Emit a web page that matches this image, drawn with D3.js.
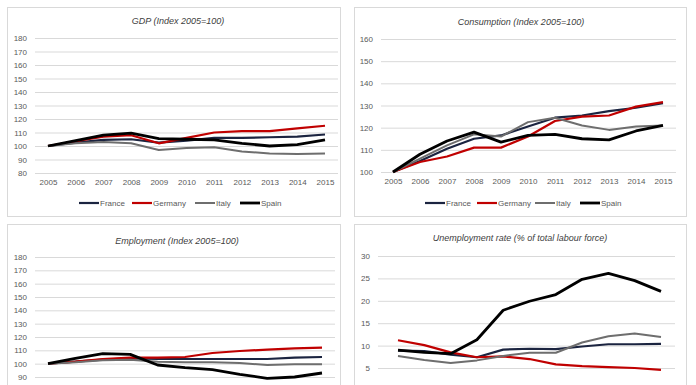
<!DOCTYPE html>
<html><head><meta charset="utf-8">
<script src="https://cdn.jsdelivr.net/npm/d3@7"></script>
<style>
body{margin:0;background:#fff;}
svg{display:block;font-family:"Liberation Sans","Open Sans",Arial,sans-serif;}
</style></head>
<body>
<svg id="c" width="696" height="385"></svg>
<script>
const years = [2005,2006,2007,2008,2009,2010,2011,2012,2013,2014,2015];
const countries = ["France","Germany","Italy","Spain"];

// GDP (Index 2005=100)
const gdpFrance  = [100,102.5,104.5,105,102.5,104,106,106,106.5,107,108.5];
const gdpGermany = [100,103.5,107,108,102,106,110,111,111,113,115];
const gdpItaly   = [100,102,103,102,97,98.5,99,96,94.5,94,94.5];
const gdpSpain   = [100,104,108,109.5,105.5,105,104.5,102,100,101,104.5];

// Consumption (Index 2005=100)
const conFrance  = [100,105,110.5,115,116.5,120.5,124.5,125.5,127.5,129,131];
const conGermany = [100,104.5,107,111,111,116,123,125,125.5,129.5,131.5];
const conItaly   = [100,106,112,117,116,122.5,124.5,121,119,120.5,121];
const conSpain   = [100,108,114,118,113.5,116.5,117,115,114.5,118.5,121];

// Employment (Index 2005=100)
const empFrance  = [100,101.5,103,104,103.5,103.5,103.5,103.5,103.5,104.5,105];
const empGermany = [100,101.5,103.5,104.5,104.5,105,108,109.5,110.5,111.5,112];
const empItaly   = [100,101,102.5,103,101.5,101,101,100.5,99,99.5,99.5];
const empSpain   = [100,104,107.5,107,99,97,95.5,92,89,90,93];

// Unemployment rate (% of total labour force)
const unFrance  = [8.9,8.8,8.0,7.4,9.1,9.3,9.2,9.8,10.3,10.3,10.4];
const unGermany = [11.2,10.1,8.5,7.4,7.6,7.0,5.8,5.4,5.2,5.0,4.6];
const unItaly   = [7.7,6.8,6.1,6.7,7.7,8.4,8.4,10.7,12.1,12.7,11.9];
const unSpain   = [9.0,8.5,8.2,11.3,17.9,19.9,21.4,24.8,26.1,24.5,22.1];

const ticksGdp = [80,90,100,110,120,130,140,150,160,170,180];
const ticksCon = [100,110,120,130,140,150,160];
const ticksEmp = [90,100,110,120,130,140,150,160,170,180];
const ticksUn = [5,10,15,20,25,30];

const colors = {France:"#1b2440",Germany:"#c00000",Italy:"#6e6e6e",Spain:"#000000"};
const widths = {France:2.2,Germany:2.2,Italy:2,Spain:2.8};

const panels = [
  {title:"GDP (Index 2005=100)", series:[gdpFrance,gdpGermany,gdpItaly,gdpSpain],
   box:[7,7,333,209], yDom:[80,180], yRange:[173,38], ticks:ticksGdp,
   xRange:[48,325], grid:[35,338], titleY:24, titleX:178, legendY:203, xAxis:true,
   legendX:[79,132,195,240]},
  {title:"Consumption (Index 2005=100)", series:[conFrance,conGermany,conItaly,conSpain],
   box:[354,7,332,209], yDom:[100,160], yRange:[172,39], ticks:ticksCon,
   xRange:[393,663], grid:[381,676], titleY:25, titleX:521, legendY:203, xAxis:true,
   legendX:[425,477,535,580]},
  {title:"Employment (Index 2005=100)", series:[empFrance,empGermany,empItaly,empSpain],
   box:[7,224,333,175], yDom:[90,180], yRange:[377,257], ticks:ticksEmp,
   xRange:[48,322], grid:[35,335], titleY:244, titleX:177, xAxis:false},
  {title:"Unemployment rate (% of total labour force)", series:[unFrance,unGermany,unItaly,unSpain],
   box:[354,224,332,175], yDom:[5,30], yRange:[368,256], ticks:ticksUn,
   xRange:[398,661], grid:[378,675], titleY:241, titleX:520, xAxis:false}
];

const svg = d3.select("#c");

panels.forEach(p => {
  const g = svg.append("g");
  g.append("rect").attr("x",p.box[0]+0.5).attr("y",p.box[1]+0.5)
    .attr("width",p.box[2]).attr("height",p.box[3])
    .attr("fill","#fff").attr("stroke","#d9d9d9").attr("stroke-width",1);

  const x = d3.scalePoint().domain(years).range(p.xRange);
  const y = d3.scaleLinear().domain(p.yDom).range(p.yRange);

  const ya = g.append("g").attr("transform",`translate(${p.grid[0]},0)`)
    .call(d3.axisLeft(y).tickValues(p.ticks).tickSize(-(p.grid[1]-p.grid[0])).tickPadding(8));
  ya.select(".domain").remove();
  ya.selectAll(".tick line").attr("stroke","#d9d9d9").attr("stroke-width",1);
  ya.selectAll(".tick text").attr("fill","#595959").style("font-size","8px");

  if (p.xAxis) {
    const xa = g.append("g").attr("transform",`translate(0,${p.yRange[0]})`)
      .call(d3.axisBottom(x).tickSize(0).tickPadding(6).tickFormat(d3.format("d")));
    xa.select(".domain").remove();
    xa.selectAll(".tick text").attr("fill","#595959").style("font-size","8px");
  }

  g.append("text").attr("x",p.titleX).attr("y",p.titleY).attr("text-anchor","middle")
    .attr("fill","#404040").style("font-size","9px").style("font-style","italic").text(p.title);

  const line = d3.line().x((d,i)=>x(years[i])).y(d=>y(d));
  countries.forEach((c,ci) => {
    g.append("path").datum(p.series[ci]).attr("d",line)
      .attr("fill","none").attr("stroke",colors[c]).attr("stroke-width",widths[c])
      .attr("stroke-linejoin","round");
  });

  if (p.legendX) {
    countries.forEach((c,ci) => {
      const lx = p.legendX[ci];
      g.append("line").attr("x1",lx).attr("x2",lx+20).attr("y1",p.legendY).attr("y2",p.legendY)
        .attr("stroke",colors[c]).attr("stroke-width",widths[c]);
      g.append("text").attr("x",lx+21).attr("y",p.legendY+3).attr("fill","#595959")
        .style("font-size","8px").text(c);
    });
  }
});
</script>
</body></html>
